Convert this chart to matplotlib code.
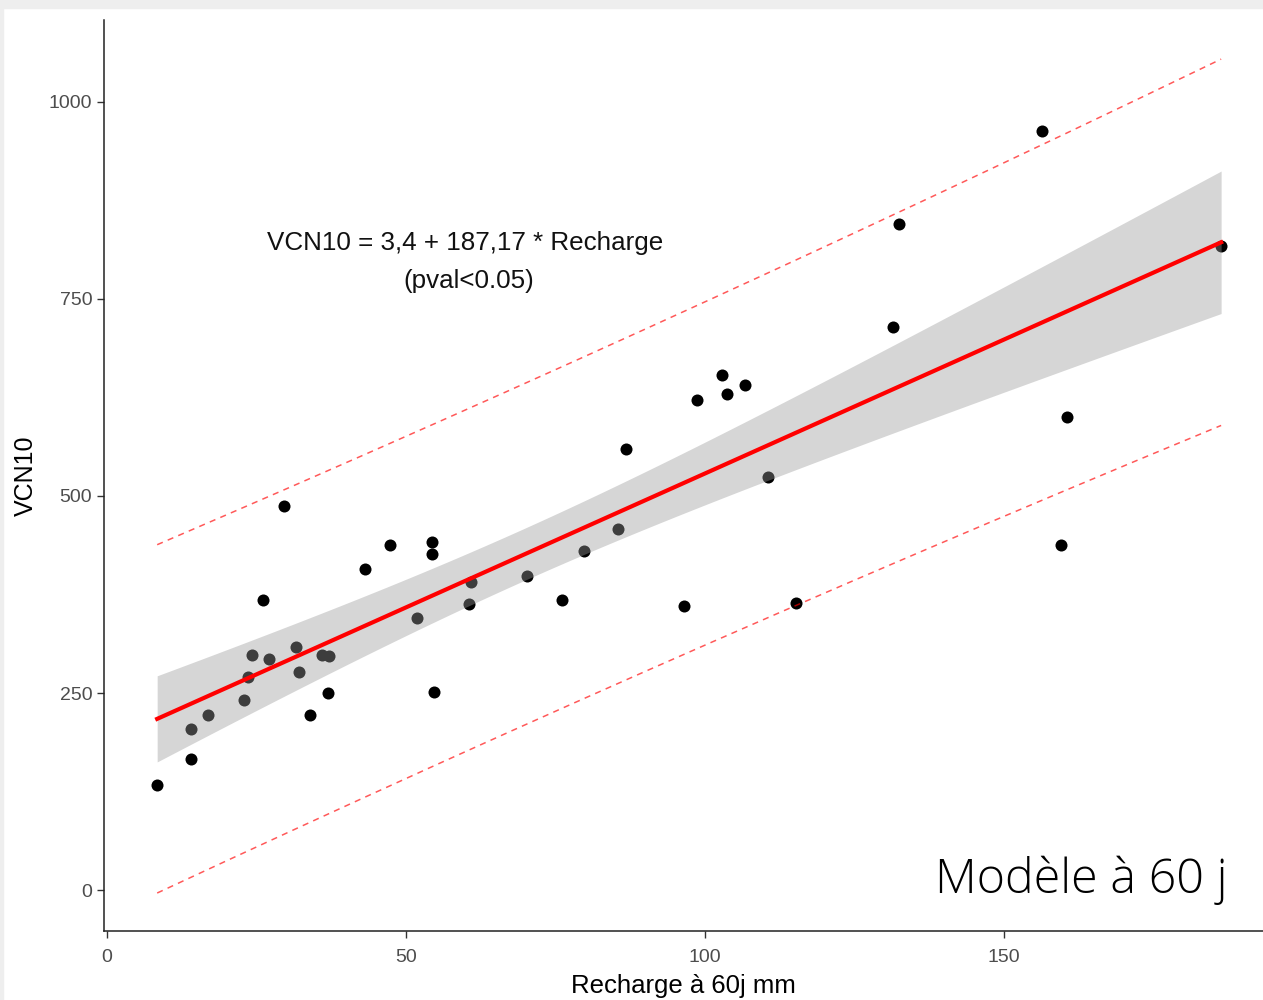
import numpy as np
import matplotlib
matplotlib.use("Agg")
from matplotlib import pyplot as plt
from matplotlib.patches import Rectangle

# values
recharge = [8.4, 14.0, 14.0, 16.9, 22.9, 23.6, 24.2, 26.1, 27.1, 29.6,
            31.6, 32.1, 33.9, 36.0, 37.1, 37.0, 43.1, 47.3, 51.8, 54.3,
            54.3, 54.7, 60.5, 60.9, 70.2, 76.1, 79.8, 85.5, 86.8, 96.5,
            98.7, 102.8, 103.7, 106.7, 110.5, 115.2, 131.4, 132.4, 156.4,
            159.5, 160.5, 186.3]
vcn10 = [133, 166, 204, 222, 241, 270, 298, 368, 293, 487,
         308, 277, 222, 298, 297, 250, 407, 438, 345, 442,
         426, 251, 363, 391, 398, 368, 430, 458, 560, 360,
         622, 654, 629, 641, 524, 364, 714, 845, 963,
         438, 600, 817]

x = np.array(recharge)
y = np.array(vcn10)

# linear fit with 95% confidence and prediction bands
n = len(x)
slope, intercept = np.polyfit(x, y, 1)
resid = y - (intercept + slope * x)
s = np.sqrt(np.sum(resid ** 2) / (n - 2))
t = 2.021  # t(0.975, df=40)
xs = np.linspace(x.min(), x.max(), 200)
fit = intercept + slope * xs
sxx = np.sum((x - x.mean()) ** 2)
se_ci = s * np.sqrt(1 / n + (xs - x.mean()) ** 2 / sxx)
se_pi = s * np.sqrt(1 + 1 / n + (xs - x.mean()) ** 2 / sxx)

plt.rcParams['font.family'] = ['Liberation Sans', 'DejaVu Sans']

fig = plt.figure(figsize=(12.63, 10), dpi=100)
fig.patches.append(Rectangle((0, 0.992), 1, 0.008, transform=fig.transFigure,
                             color='#eeeeee', zorder=0))
fig.patches.append(Rectangle((0, 0), 0.0025, 1, transform=fig.transFigure,
                             color='#eeeeee', zorder=0))
ax = fig.add_axes([0.0823, 0.069, 0.9177, 0.911])

ax.scatter(x, y, s=75, color='black', zorder=2, linewidths=0)
ax.fill_between(xs, fit - t * se_ci, fit + t * se_ci, color='#999999',
                alpha=0.4, linewidth=0, zorder=3)
ax.plot(xs, fit, color='red', lw=3, zorder=4)
ax.plot(xs, fit + t * se_pi, color='red', alpha=0.65, lw=1.1,
        dashes=(4, 3.5), zorder=4)
ax.plot(xs, fit - t * se_pi, color='red', alpha=0.65, lw=1.1,
        dashes=(4, 3.5), zorder=4)

ax.text(59.9, 821, "VCN10 = 3,4 + 187,17 * Recharge", ha='center',
        va='center', fontsize=18.7, color='#111111')
ax.text(60.5, 773, "(pval<0.05)", ha='center', va='center',
        fontsize=18.7, color='#111111')
ax.text(0.969, 0.042, "Modèle à 60 j", transform=ax.transAxes, ha='right',
        va='baseline', fontsize=34.8, family=['Open Sans', 'DejaVu Sans'],
        fontweight='light', color='black')

ax.set_xlim(-0.5, 193.3)
ax.set_ylim(-52, 1104)
ax.set_xticks([0, 50, 100, 150])
ax.set_yticks([0, 250, 500, 750, 1000])
ax.tick_params(colors='#333333', labelcolor='#4d4d4d', labelsize=14,
               length=5, width=1)
ax.tick_params(axis='x', pad=8)
for side in ['top', 'right']:
    ax.spines[side].set_visible(False)
for side in ['left', 'bottom']:
    ax.spines[side].set_linewidth(1.1)
    ax.spines[side].set_color('#222222')

ax.set_xlabel("Recharge à 60j mm", fontsize=18.5, labelpad=6)
ax.set_ylabel("VCN10", fontsize=18, labelpad=8)

fig.savefig("out.png", dpi=100)
